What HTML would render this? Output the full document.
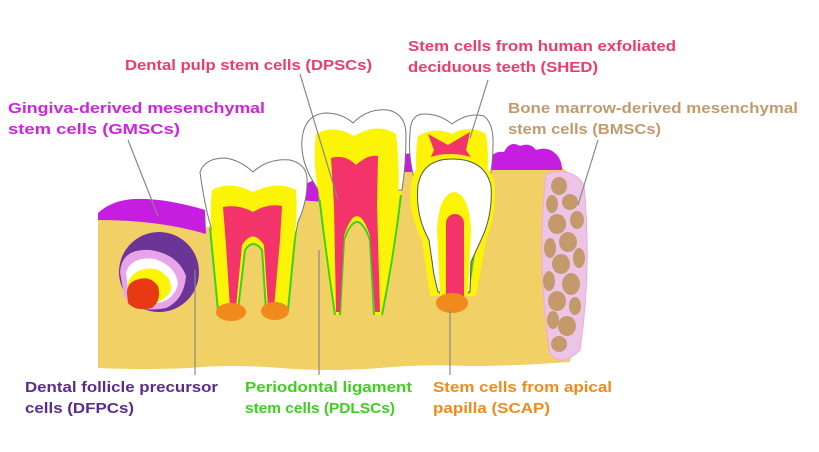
<!DOCTYPE html>
<html><head><meta charset="utf-8"><style>
html,body{margin:0;padding:0;background:#fff}
svg{display:block}
text{font-family:"Liberation Sans",Arial,sans-serif;font-weight:bold;font-size:14.5px}
</style></head><body>
<svg width="819" height="452" viewBox="0 0 819 452" xmlns="http://www.w3.org/2000/svg">
<!-- bone -->
<path d="M98,216 Q150,205 205,228 L300,192 L320,186 L410,165 L490,160 L560,166 L578,180 Q592,270 570,362 Q520,366 470,366 Q420,364 380,368 Q330,372 280,368 Q230,364 190,368 Q140,370 98,368 Z" fill="#f1d166"/>
<!-- gums -->
<path d="M98,213 Q112,200 135,199 Q165,198 205,210 L206,234 Q160,220 98,220 Z" fill="#c61ee0"/>
<path d="M296,200 Q302,182 316,180 L326,184 L326,202 Z" fill="#c61ee0"/>
<path d="M398,158 Q404,152 414,154 L414,172 L398,172 Z" fill="#c61ee0"/>
<path d="M486,162 Q494,150 504,152 Q510,140 520,146 Q530,142 536,150 Q548,146 556,154 Q562,160 562,170 L486,170 Z" fill="#c61ee0"/>
<!-- bone marrow -->
<path d="M546,174 Q572,166 584,185 Q592,270 580,350 Q562,368 550,354 Q536,262 546,174 Z" fill="#ecc5e6" stroke="#f2a9d6" stroke-width="1"/>
<g fill="#c49a6c">
<ellipse cx="559" cy="186" rx="8" ry="9"/><ellipse cx="552" cy="204" rx="6" ry="9"/><ellipse cx="570" cy="202" rx="8" ry="8"/>
<ellipse cx="577" cy="220" rx="7" ry="9"/><ellipse cx="557" cy="224" rx="9" ry="10"/><ellipse cx="568" cy="242" rx="9" ry="10"/>
<ellipse cx="550" cy="248" rx="6" ry="10"/><ellipse cx="579" cy="258" rx="6" ry="10"/><ellipse cx="561" cy="264" rx="9" ry="10"/>
<ellipse cx="549" cy="281" rx="6" ry="10"/><ellipse cx="571" cy="284" rx="9" ry="11"/><ellipse cx="557" cy="301" rx="9" ry="10"/>
<ellipse cx="575" cy="306" rx="6" ry="9"/><ellipse cx="553" cy="320" rx="6" ry="9"/><ellipse cx="567" cy="326" rx="9" ry="10"/><ellipse cx="559" cy="344" rx="8" ry="8"/>
</g>
<!-- follicle -->
<circle cx="159" cy="272" r="40" fill="#6b3597"/>
<path d="M120,272 Q122,248 150,250 Q178,254 186,276 Q184,300 166,308 Q136,314 124,296 Z" fill="#e8a4e8"/>
<path d="M126,272 Q132,256 155,259 Q176,266 178,284 Q174,300 158,303 Q136,304 128,290 Z" fill="#fff"/>
<path d="M128,282 Q136,266 156,269 Q172,276 171,290 Q165,302 148,305 Q132,302 128,292 Z" fill="#fbf406"/>
<path d="M127,293 Q127,281 140,279 Q150,276 158,286 Q162,300 152,308 Q136,312 128,303 Z" fill="#e83a12"/>
<!-- tooth 1 -->
<path d="M210,220 L296,220 L288,310 L266,310 L262,250 Q253,236 245,250 L238,310 L218,310 Z" fill="#fbf406"/>
<path d="M210,228 L218,310 M296,228 L288,310 M238,310 L245,250 Q253,238 262,250 L266,310" fill="none" stroke="#3ecf1f" stroke-width="2"/>
<path d="M200,172 Q205,158 225,158 Q240,160 253,172 Q268,158 290,160 Q306,164 307,178 Q308,200 298,222 L296,232 L213,233 Q205,210 200,172 Z" fill="#fff" stroke="#777" stroke-width="1"/>
<path d="M212,190 Q230,180 253,192 Q278,180 296,190 Q298,215 294,240 L213,240 Q209,215 212,190 Z" fill="#fbf406"/>
<path d="M223,207 Q238,204 253,212 Q268,203 282,206 L280,240 L274,308 L268,308 L264,245 Q253,228 242,245 L236,308 L230,308 L226,245 Z" fill="#f2346b"/>
<ellipse cx="231" cy="312" rx="15" ry="9" fill="#f08a1c"/>
<ellipse cx="275" cy="311" rx="14" ry="9" fill="#f08a1c"/>
<!-- tooth 2 -->
<path d="M318,185 L402,185 Q398,250 382,315 L374,315 L370,240 Q357,200 344,240 L340,315 L334,315 Q322,250 318,185 Z" fill="#fbf406"/>
<path d="M319,195 Q326,255 335,315 M401,195 Q394,255 382,315 M340,315 L344,240 Q357,204 370,240 L374,315" fill="none" stroke="#3ecf1f" stroke-width="2"/>
<path d="M302,140 Q304,115 325,113 Q342,113 353,123 Q368,108 388,110 Q406,114 406,135 Q406,165 402,190 L320,192 Q300,165 302,140 Z" fill="#fff" stroke="#777" stroke-width="1"/>
<path d="M316,134 Q334,124 354,136 Q378,122 396,134 Q400,165 398,200 L320,200 Q312,165 316,134 Z" fill="#fbf406"/>
<path d="M331,158 Q345,154 356,165 Q368,154 378,156 L377,205 L380,312 L375,312 L370,236 Q357,196 344,236 L340,312 L336,312 L334,205 Z" fill="#f2346b"/>
<!-- tooth 3 deciduous -->
<path d="M410,134 Q410,114 424,114 Q440,114 452,124 Q468,112 484,116 Q494,124 493,146 Q493,160 490,178 L414,178 Q408,155 410,134 Z" fill="#fff" stroke="#777" stroke-width="1"/>
<path d="M418,136 Q436,126 452,134 Q470,124 486,134 Q490,160 486,182 L418,182 Q414,160 418,136 Z" fill="#fbf406"/>
<path d="M428,134 L448,145 L470,132 L466,150 L474,162 L458,158 L448,168 L438,158 L428,164 L434,150 Z" fill="#f2346b"/>
<!-- permanent developing tooth -->
<path d="M412,180 Q418,154 450,154 Q484,154 494,180 Q498,210 486,240 L476,296 L430,296 L422,240 Q406,210 412,180 Z" fill="#fbf406"/>
<path d="M432,240 L440,294 M476,240 L468,294" fill="none" stroke="#3ecf1f" stroke-width="2"/>
<path d="M418,185 Q423,159 452,159 Q485,159 491,186 Q493,215 481,240 L471,262 L470,292 L438,292 L434,275 L429,240 Q415,215 418,185 Z" fill="#fff" stroke="#555" stroke-width="1"/>
<path d="M437,230 Q439,194 454,192 Q469,194 471,230 L468,294 L440,294 Z" fill="#fbf406"/>
<rect x="446" y="214" width="18" height="90" rx="9" fill="#f2346b"/>
<ellipse cx="452" cy="303" rx="16" ry="10" fill="#f08a1c"/>
<!-- leader lines -->
<g stroke="#888" stroke-width="1.2">
<line x1="128" y1="140" x2="158" y2="216"/>
<line x1="300" y1="74" x2="338" y2="200"/>
<line x1="488" y1="80" x2="470" y2="138"/>
<line x1="598" y1="140" x2="578" y2="205"/>
<line x1="195" y1="270" x2="195" y2="375"/>
<line x1="319" y1="250" x2="319" y2="375"/>
<line x1="450" y1="310" x2="450" y2="375"/>
</g>
<!-- labels -->
<g fill="#ee3b6c">
<text x="125" y="70" textLength="247" lengthAdjust="spacingAndGlyphs">Dental pulp stem cells (DPSCs)</text>
<text x="408" y="51" textLength="268" lengthAdjust="spacingAndGlyphs">Stem cells from human exfoliated</text>
<text x="408" y="72" textLength="190" lengthAdjust="spacingAndGlyphs">deciduous teeth (SHED)</text>
</g>
<g fill="#cf22e2">
<text x="8" y="113" textLength="257" lengthAdjust="spacingAndGlyphs">Gingiva-derived mesenchymal</text>
<text x="8" y="134" textLength="172" lengthAdjust="spacingAndGlyphs">stem cells (GMSCs)</text>
</g>
<g fill="#c49a6c">
<text x="508" y="113" textLength="290" lengthAdjust="spacingAndGlyphs">Bone marrow-derived mesenchymal</text>
<text x="508" y="134" textLength="153" lengthAdjust="spacingAndGlyphs">stem cells (BMSCs)</text>
</g>
<g fill="#5b2c8c">
<text x="25" y="392" textLength="193" lengthAdjust="spacingAndGlyphs">Dental follicle precursor</text>
<text x="25" y="413" textLength="109" lengthAdjust="spacingAndGlyphs">cells (DFPCs)</text>
</g>
<g fill="#3ecf1f">
<text x="245" y="392" textLength="167" lengthAdjust="spacingAndGlyphs">Periodontal ligament</text>
<text x="245" y="413" textLength="150" lengthAdjust="spacingAndGlyphs">stem cells (PDLSCs)</text>
</g>
<g fill="#f08a1c">
<text x="433" y="392" textLength="179" lengthAdjust="spacingAndGlyphs">Stem cells from apical</text>
<text x="433" y="413" textLength="117" lengthAdjust="spacingAndGlyphs">papilla (SCAP)</text>
</g>
</svg>
</body></html>
